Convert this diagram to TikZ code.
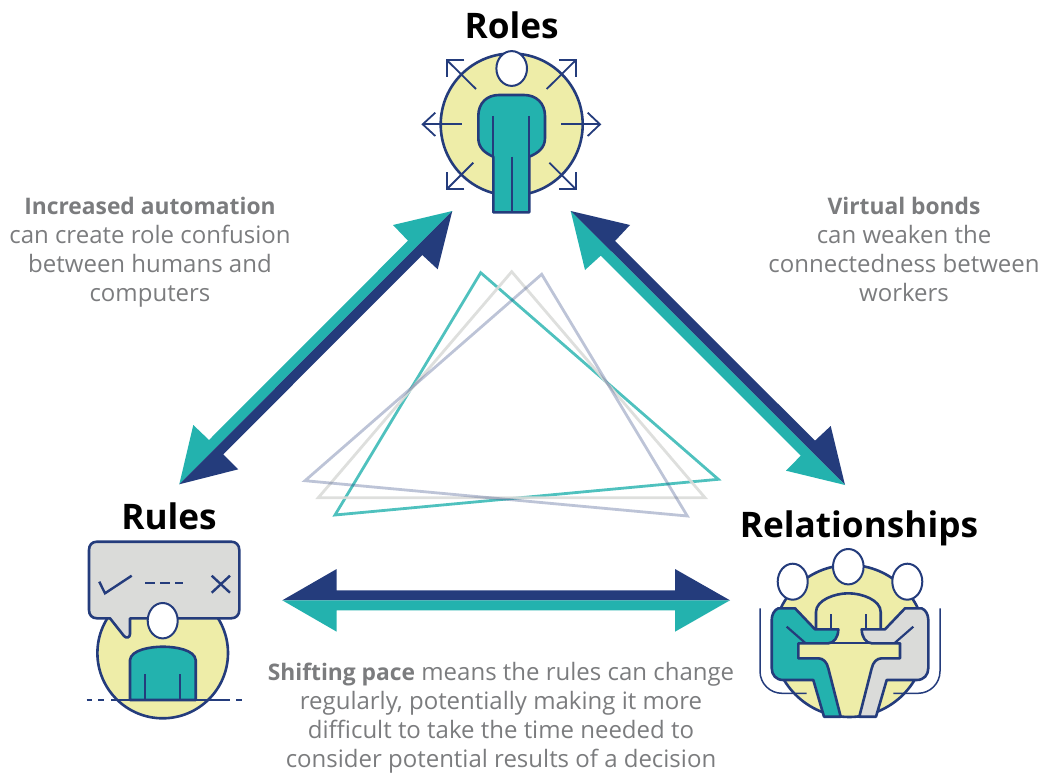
\documentclass[tikz,border=0pt]{standalone}
\usepackage{fontspec}
\setmainfont{Open Sans}
\definecolor{navy}{HTML}{243C7C}
\definecolor{tealc}{HTML}{23B2AE}
\definecolor{paleyellow}{HTML}{EEEDA8}
\definecolor{palegray}{HTML}{DADBD9}
\definecolor{notegray}{HTML}{7B7C7E}
\newcommand{\notelead}[1]{{\bfseries\fontsize{22.8}{29}\selectfont #1}}
\tikzset{
  title/.style={font=\bfseries\fontsize{35.2}{40}\selectfont, inner sep=0pt},
  note/.style={align=center, inner sep=0pt, text=notegray, font=\fontsize{24}{29}\selectfont},
  disc/.style={circle, draw=navy, fill=paleyellow, line width=2.6pt, inner sep=0pt},
  outline/.style={draw=navy, line width=2.6pt, line join=round},
  thinline/.style={draw=navy, line width=1.8pt},
  head/.style={draw=navy, fill=white, line width=2pt}
}
\begin{document}
\begin{tikzpicture}[x=1pt, y=-1pt]
        \useasboundingbox (0,0) rectangle (1042,773);

        % discs and titles
        \node [disc, minimum size=142pt] (rolesdisc) at (511.7,124.5) {};
        \node [disc, minimum size=130.6pt] (rulesdisc) at (162.7,653) {};
        \node [disc, minimum size=152pt] (relationsdisc) at (849.3,641) {};
        \node [title, above of=rolesdisc, yshift=71pt] (rolestitle) {Roles};
        \node [title, above of=rulesdisc, xshift=6.3pt, yshift=108.5pt] (rulestitle) {Rules};
        \node [title, above of=relationsdisc, xshift=9.7pt, yshift=84pt] (relationstitle) {Relationships};

        % notes
        \node [note] (automation) at (150,252) {\notelead{Increased automation}\\can create role confusion\\between humans and\\computers};
        \node [note] (bonds) at (904,249) {\notelead{Virtual bonds}\\can weaken the\\connectedness between\\workers};
        \node [note] (pace) at (501,718.2) {\notelead{Shifting pace} means the rules can change\\regularly, potentially making it more\\difficult to take the time needed to\\consider potential results of a decision};

        % triangles
        \draw [tealc, draw opacity=.8, line width=2.8pt, miter limit=20] (480.7,272.7) -- (718.3,479.3) -- (335,515) -- cycle;
        \draw [palegray, draw opacity=.9, line width=2.8pt, miter limit=20] (511.7,271.7) -- (705,497.7) -- (318.3,497.7) -- cycle;
        \draw [navy, draw opacity=.3, line width=2.8pt, miter limit=20] (541.7,274.3) -- (687.3,516) -- (305,480.7) -- cycle;

        % arrow ends
        \coordinate (rolesa) at (452.3,211);
        \coordinate (rulesa) at (179.3,484.3);
        \coordinate (rolesb) at (570.7,211);
        \coordinate (relationsb) at (845,485);
        \coordinate (rulesc) at (282.3,600.3);
        \coordinate (relationsc) at (730,600.3);

        % arrows
        \fill [tealc] (rolesa) -- (393,225) -- (408,240.7) -- (209,440) -- (193.3,425) -- (rulesa) -- cycle;
        \fill [navy] (rolesa) -- (437.7,269.3) -- (422.3,255) -- (223.3,454.3) -- (238.3,469.3) -- (rulesa) -- cycle;
        \fill [navy] (rolesb) -- (630,225) -- (615,241) -- (815,440.7) -- (830.7,426) -- (relationsb) -- cycle;
        \fill [tealc] (rolesb) -- (585,270) -- (600.7,255.7) -- (800.7,455.7) -- (786,470.7) -- (relationsb) -- cycle;
        \fill [navy] (rulesc) -- (336.7,569) -- (336.7,590.3) -- (675,590.3) -- (675,569) -- (relationsc) -- cycle;
        \fill [tealc] (rulesc) -- (336.7,631.7) -- (336.7,610.3) -- (675,610.3) -- (675,631.7) -- (relationsc) -- cycle;

        % roles person
        \draw [thinline] (461.7,124.3) -- (422.7,124.3);
        \draw [thinline] (435.3,112.7) -- (422.7,124.3) -- (435.3,136);
        \draw [thinline] (561,124.3) -- (600,124.3);
        \draw [thinline] (587.7,112.7) -- (600,124.3) -- (587.7,136);
        \draw [thinline] (476,89) -- (446.7,60);
        \draw [thinline] (464.3,60) -- (446.7,60) -- (446.7,77.3);
        \draw [thinline] (546.7,89) -- (576,60);
        \draw [thinline] (559,60) -- (576,60) -- (576,77.3);
        \draw [thinline] (473.3,162.7) -- (446.7,189.3);
        \draw [thinline] (464.3,189.3) -- (446.7,189.3) -- (446.7,172.3);
        \draw [thinline] (549.3,162.7) -- (576,189.3);
        \draw [thinline] (559,189.3) -- (576,189.3) -- (576,172.3);
        \draw [head] (511.7,68.5) ellipse [x radius=15.3, y radius=17.4];
        \draw [outline, fill=tealc] (493.3,212.3) -- (529.3,212.3) -- (529.3,156.7) .. controls (538,153) and (545,148) .. (545,138) -- (545,116) .. controls (545,103) and (536,95) .. (524,95) -- (499,95) .. controls (487,95) and (478.3,103) .. (478.3,116) -- (478.3,138) .. controls (478.3,148) and (485,153) .. (493.3,156.7) -- cycle;
        \draw [thinline, line width=2.2pt] (493.3,116) -- (493.3,212);
        \draw [thinline, line width=2.2pt] (529,116) -- (529,212);
        \draw [thinline, line width=2.2pt] (511.7,156.7) -- (511.7,212);

        % rules bubble and person
        \draw [outline, fill=palegray] (89,550) .. controls (89,545) and (92,541.7) .. (97,541.7) -- (231.3,541.7) .. controls (236,541.7) and (239.3,545) .. (239.3,550) -- (239.3,610) .. controls (239.3,615) and (236,618.3) .. (231.3,618.3) -- (130,618.3) -- (130,634) .. controls (130,638) and (126,638.5) .. (124,636) -- (110,618.3) -- (97,618.3) .. controls (92,618.3) and (89,615) .. (89,610) -- cycle;
        \draw [navy, line width=2.4pt] (99.3,581.7) -- (105,593.3) -- (131.7,575.7);
        \draw [navy, line width=2.4pt, dash pattern=on 10pt off 5pt] (145,582.7) -- (183.3,582.7);
        \draw [navy, line width=2.4pt] (211.7,575.7) -- (230,592.7);
        \draw [navy, line width=2.4pt] (230,575.7) -- (211.7,592.7);
        \draw [head] (162.7,620.7) ellipse [x radius=15, y radius=17.7];
        \draw [outline, fill=tealc] (130,700) -- (130,660) .. controls (131,650) and (150,646.7) .. (162.8,646.7) .. controls (176,646.7) and (194.7,650) .. (195.7,660) -- (195.7,700) -- cycle;
        \draw [thinline, line width=2.2pt] (145,674) -- (145,700);
        \draw [thinline, line width=2.2pt] (180,674) -- (180,700);
        \draw [thinline] (86.7,700) -- (92,700);
        \draw [thinline] (98,700) -- (104,700);
        \draw [thinline] (111,700) -- (230,700);
        \draw [thinline] (236,700) -- (241.7,700);

        % relationships group
        \draw [thinline, line width=1.5pt, rounded corners=22pt] (760,608.3) -- (760,693.3) -- (806.7,693.3);
        \draw [thinline, line width=1.5pt, rounded corners=22pt] (940,608.3) -- (940,693.3) -- (893.3,693.3);
        \draw [outline] (816,629.3) -- (816,612) .. controls (816,600) and (835,593.3) .. (848.3,593.3) .. controls (862,593.3) and (880.7,600) .. (880.7,612) -- (880.7,629.3);
        \draw [thinline, line width=2.2pt] (830.7,614) -- (830.7,629);
        \draw [thinline, line width=2.2pt] (866,614) -- (866,629);
        \draw [outline, fill=tealc] (795,608.3) -- (778.3,608.3) .. controls (774,610) and (771.7,615) .. (771.7,620) -- (771.7,668) .. controls (771.7,675) and (776,680) .. (783.3,680) -- (813.3,680) -- (824,716.7) -- (840.7,716.7) -- (828.3,668.3) .. controls (827,662) and (823,658.3) .. (818.3,658.3) -- (798.3,658.3) -- (798.3,643.3) -- (828.3,643.3) .. controls (834,643.3) and (838.3,637) .. (838.3,629.3) -- (815,629.3) -- cycle;
        \draw [outline, fill=palegray] (905,608.3) -- (921.7,608.3) .. controls (926,610) and (928.3,615) .. (928.3,620) -- (928.3,668) .. controls (928.3,675) and (924,680) .. (916.7,680) -- (886.7,680) -- (876,716.7) -- (859.3,716.7) -- (871.7,668.3) .. controls (873,662) and (877,658.3) .. (881.7,658.3) -- (900,658.3) -- (900,643.3) -- (871.7,643.3) .. controls (866,643.3) and (861.7,637) .. (861.7,629.3) -- (885,629.3) -- cycle;
        \draw [navy, line width=2pt] (828.3,643.3) -- (871.7,643.3);
        \draw [navy, line width=2pt] (840.7,716.7) -- (859.3,716.7);
        \draw [thinline, line width=2.2pt] (786.7,626.7) -- (805,642.7);
        \draw [thinline, line width=2.2pt] (913.3,626.7) -- (895,642.7);
        \draw [head] (848.3,566.7) ellipse [x radius=15.3, y radius=17.7];
        \draw [head] (792.7,581.7) ellipse [x radius=15, y radius=18];
        \draw [head] (907.3,581.7) ellipse [x radius=15, y radius=18];
      \end{tikzpicture}
\end{document}
